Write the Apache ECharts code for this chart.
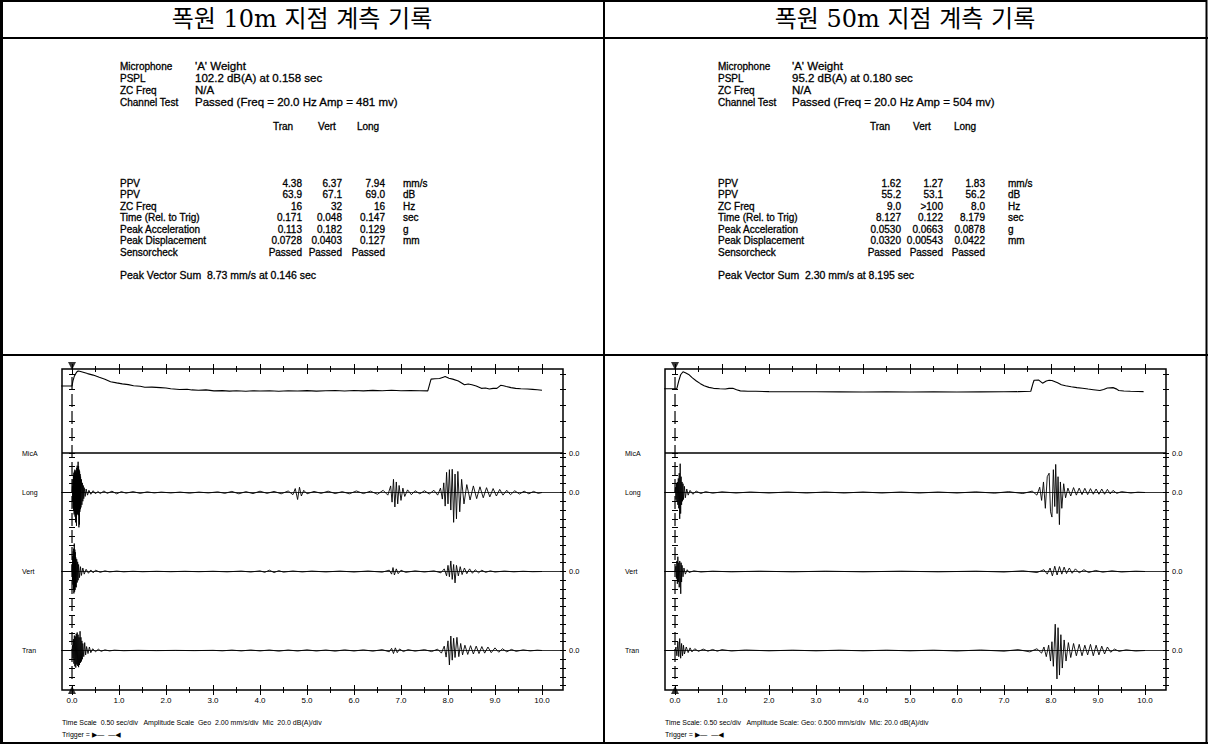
<!DOCTYPE html>
<html><head><meta charset="utf-8">
<script src="https://cdn.jsdelivr.net/npm/echarts@6/dist/echarts.min.js"></script>
<style>html,body{margin:0;padding:0;background:#fff}#c{width:1208px;height:744px}</style>
</head><body><div id="c"></div>
<script>
// ---------------- DATA ----------------
const panelTitles = ['폭원 10m 지점 계측 기록', '폭원 50m 지점 계측 기록'];
const headerLabels = ['Microphone', 'PSPL', 'ZC Freq', 'Channel Test'];
const headerValues10 = ["'A' Weight", '102.2 dB(A) at 0.158 sec', 'N/A', 'Passed (Freq = 20.0 Hz Amp = 481 mv)'];
const headerValues50 = ["'A' Weight", '95.2 dB(A) at 0.180 sec', 'N/A', 'Passed (Freq = 20.0 Hz Amp = 504 mv)'];
const columnNames = ['Tran', 'Vert', 'Long'];
const rowLabels = ['PPV', 'PPV', 'ZC Freq', 'Time (Rel. to Trig)', 'Peak Acceleration', 'Peak Displacement', 'Sensorcheck'];
const rowUnits = ['mm/s', 'dB', 'Hz', 'sec', 'g', 'mm', ''];
const tran10 = ['4.38', '63.9', '16', '0.171', '0.113', '0.0728', 'Passed'];
const vert10 = ['6.37', '67.1', '32', '0.048', '0.182', '0.0403', 'Passed'];
const long10 = ['7.94', '69.0', '16', '0.147', '0.129', '0.127', 'Passed'];
const tran50 = ['1.62', '55.2', '9.0', '8.127', '0.0530', '0.0320', 'Passed'];
const vert50 = ['1.27', '53.1', '>100', '0.122', '0.0663', '0.00543', 'Passed'];
const long50 = ['1.83', '56.2', '8.0', '8.179', '0.0878', '0.0422', 'Passed'];
const pvs10 = 'Peak Vector Sum  8.73 mm/s at 0.146 sec';
const pvs50 = 'Peak Vector Sum  2.30 mm/s at 8.195 sec';
const footer10 = ['Time Scale  0.50 sec/div   Amplitude Scale  Geo  2.00 mm/s/div  Mic  20.0 dB(A)/div', 'Trigger = \u25B6\u2014  \u2014\u25C0'];
const footer50 = ['Time Scale: 0.50 sec/div   Amplitude Scale: Geo: 0.500 mm/s/div  Mic: 20.0 dB(A)/div', 'Trigger = \u25B6\u2014  \u2014\u25C0'];
const channelNames = ['MicA', 'Long', 'Vert', 'Tran'];
const timeTicks = [0, 1, 2, 3, 4, 5, 6, 7, 8, 9, 10];
const timeLabels = ['0.0', '1.0', '2.0', '3.0', '4.0', '5.0', '6.0', '7.0', '8.0', '9.0', '10.0'];
const halfTicks = [0.5, 1.5, 2.5, 3.5, 4.5, 5.5, 6.5, 7.5, 8.5, 9.5];
const micTicks = [0, 20, 40, 60, 80, 100];
const geoTicks10 = [-8, -6, -4, -2, 0, 2, 4, 6, 8];
const geoTicks50 = [-2, -1.5, -1, -0.5, 0, 0.5, 1, 1.5, 2];
const zeroLabel = '0.0';

// Microphone traces, dB(A) [t (s), level]
const mic10 = [[-0.23,84.5],[0,84.5],[0.02,91.0],[0.05,97.0],[0.1,102.2],[0.13,103.5],[0.16,103.2],[0.2,102.6],[0.33,100.2],[0.45,98.3],[0.58,95.5],[0.7,93.1],[0.82,90.0],[0.95,88.5],[1.07,87.2],[1.2,86.3],[1.31,84.8],[1.45,84.2],[1.55,83.0],[1.7,83.1],[1.88,82.5],[2.0,82.0],[2.1,81.0],[2.29,80.2],[2.45,80.5],[2.55,79.6],[2.69,79.2],[2.85,79.7],[3.02,78.4],[3.2,78.7],[3.35,78.1],[3.5,78.5],[3.7,77.9],[3.85,78.5],[4.0,78.2],[4.2,78.6],[4.4,78.0],[4.6,78.5],[4.8,78.3],[5.0,78.7],[5.2,78.1],[5.4,78.5],[5.6,78.8],[5.8,78.3],[6.0,78.9],[6.2,78.4],[6.4,79.0],[6.6,78.5],[6.8,79.1],[7.0,78.6],[7.2,78.9],[7.4,78.5],[7.57,78.4],[7.62,89.2],[7.64,93.2],[7.72,93.7],[7.82,94.1],[7.9,95.7],[7.94,96.5],[8.02,94.4],[8.1,93.2],[8.22,90.9],[8.35,86.2],[8.43,87.1],[8.51,86.2],[8.6,84.6],[8.71,81.6],[8.8,82.0],[8.88,80.7],[8.96,81.6],[9.04,81.6],[9.12,85.4],[9.18,84.8],[9.24,83.9],[9.34,82.5],[9.44,81.6],[9.55,81.1],[9.69,80.7],[9.8,80.3],[9.9,79.8],[10.0,79.2]];
const mic50 = [[-0.23,81.0],[0,81.0],[0.04,81.5],[0.08,91.0],[0.12,98.7],[0.17,102.5],[0.22,101.3],[0.29,99.2],[0.37,94.8],[0.455,90.9],[0.54,87.5],[0.62,84.8],[0.72,82.8],[0.82,81.6],[0.95,81.0],[1.07,80.7],[1.15,81.6],[1.23,81.6],[1.31,79.9],[1.39,78.4],[1.55,78.0],[1.72,77.9],[2.0,77.4],[2.5,77.2],[3.0,77.2],[3.5,77.1],[4.0,77.0],[4.5,77.1],[5.0,77.0],[5.5,77.1],[6.0,77.0],[6.5,77.1],[7.0,77.2],[7.3,77.4],[7.57,77.9],[7.62,88.4],[7.64,91.8],[7.74,92.0],[7.82,88.1],[7.9,90.9],[7.96,91.8],[8.02,91.5],[8.14,88.5],[8.22,86.2],[8.31,84.8],[8.43,83.6],[8.55,82.5],[8.67,81.8],[8.79,80.7],[8.9,79.9],[9.04,78.8],[9.12,80.2],[9.2,82.1],[9.32,82.5],[9.4,80.6],[9.44,78.8],[9.55,78.2],[9.69,77.9],[9.85,77.6],[9.97,77.4]];

// Geophone traces, mm/s [t (s), velocity]
const longWave10 = [[-0.23,0],[0,0],[0.01,1.5],[0.015,-2.0],[0.02,3.0],[0.025,-3.5],[0.03,4.0],[0.035,-4.2],[0.04,4.5],[0.045,-5.0],[0.05,4.8],[0.055,-4.5],[0.06,5.2],[0.065,-5.5],[0.07,4.6],[0.075,-6.8],[0.08,5.0],[0.085,-5.2],[0.09,4.4],[0.095,-7.6],[0.1,5.6],[0.105,-4.8],[0.11,6.1],[0.115,-5.0],[0.12,5.4],[0.125,-4.6],[0.13,7.0],[0.135,-5.2],[0.14,6.0],[0.147,-7.94],[0.152,5.2],[0.157,-7.3],[0.162,4.8],[0.167,-4.4],[0.172,4.2],[0.177,-3.8],[0.182,3.6],[0.19,-3.4],[0.2,3.0],[0.21,-2.8],[0.22,2.2],[0.23,-2.0],[0.24,1.6],[0.25,-1.4],[0.26,1.1],[0.28,-0.9],[0.3,0.8],[0.33,-0.6],[0.36,0.5],[0.4,-0.4],[0.45,0.4],[0.5,-0.3],[0.55,0.25],[0.6,-0.25],[0.68,0.35],[0.75,-0.2],[0.85,0.3],[0.95,-0.3],[1.05,0.2],[1.15,-0.15],[1.3,0.2],[1.45,-0.2],[1.6,0.15],[1.75,-0.1],[1.9,0.1],[2.1,-0.1],[2.3,0.1],[2.5,-0.15],[2.7,0.1],[2.9,-0.1],[3.1,0.15],[3.25,-0.2],[3.4,0.25],[3.55,-0.3],[3.7,0.2],[3.85,-0.25],[4.0,0.3],[4.15,-0.2],[4.3,0.25],[4.45,-0.3],[4.6,0.35],[4.7,-0.5],[4.75,0.9],[4.8,-1.6],[4.84,1.2],[4.88,-0.8],[4.93,0.5],[5.0,-0.3],[5.15,0.25],[5.3,-0.2],[5.45,0.3],[5.6,-0.25],[5.75,0.2],[5.9,-0.3],[6.05,0.35],[6.2,-0.25],[6.35,0.3],[6.5,-0.4],[6.62,0.5],[6.72,-0.6],[6.78,1.5],[6.81,-2.2],[6.84,3.0],[6.87,-3.3],[6.9,2.4],[6.93,-2.6],[6.96,1.6],[7.0,-1.8],[7.04,1.0],[7.08,-0.9],[7.14,0.6],[7.22,-0.5],[7.3,0.4],[7.4,-0.3],[7.5,0.4],[7.6,-0.35],[7.7,0.5],[7.78,-0.6],[7.84,1.0],[7.88,-1.5],[7.91,2.2],[7.94,-3.1],[7.97,4.6],[8.0,-2.6],[8.03,5.2],[8.06,-4.0],[8.09,5.3],[8.12,-6.8],[8.15,4.2],[8.18,-6.0],[8.21,4.8],[8.25,-4.4],[8.29,3.0],[8.34,-2.6],[8.4,1.8],[8.47,-1.7],[8.54,1.5],[8.61,-1.4],[8.68,1.3],[8.75,-1.2],[8.82,1.1],[8.89,-1.0],[8.96,0.9],[9.03,-0.8],[9.1,0.7],[9.17,-0.6],[9.25,0.5],[9.33,-0.5],[9.42,0.4],[9.52,-0.35],[9.62,0.3],[9.72,-0.3],[9.82,0.25],[9.92,-0.2],[10.0,0]];
const vertWave10 = [[-0.23,0],[0,0],[0.005,1.5],[0.01,-2.2],[0.015,3.5],[0.02,-3.0],[0.025,4.6],[0.03,-4.0],[0.035,5.2],[0.04,-5.0],[0.048,6.37],[0.055,-4.6],[0.06,5.0],[0.065,-4.2],[0.07,4.4],[0.075,-3.5],[0.08,3.2],[0.09,-3.6],[0.1,2.8],[0.11,-2.5],[0.12,2.2],[0.13,-2.0],[0.14,1.6],[0.16,-1.4],[0.18,1.1],[0.2,-0.9],[0.23,0.8],[0.26,-0.6],[0.3,0.5],[0.35,-0.4],[0.4,0.35],[0.45,-0.3],[0.5,0.3],[0.6,-0.2],[0.7,0.15],[0.8,-0.1],[0.95,0.1],[1.1,-0.08],[1.3,0.06],[1.5,-0.06],[1.8,0.05],[2.1,-0.05],[2.4,0.05],[2.7,-0.05],[3.0,0.06],[3.3,-0.08],[3.6,0.1],[3.8,-0.12],[4.0,0.15],[4.1,-0.2],[4.2,0.3],[4.3,-0.25],[4.4,0.2],[4.5,-0.15],[4.7,0.12],[4.9,-0.1],[5.1,0.1],[5.4,-0.1],[5.7,0.1],[6.0,-0.12],[6.3,0.12],[6.6,-0.15],[6.75,0.3],[6.8,-0.6],[6.83,0.9],[6.86,-0.8],[6.9,0.6],[6.94,-0.5],[7.0,0.3],[7.1,-0.2],[7.3,0.15],[7.5,-0.12],[7.7,0.15],[7.85,-0.3],[7.92,0.6],[7.97,-1.0],[8.0,1.4],[8.03,-1.2],[8.06,2.4],[8.09,-1.8],[8.12,1.6],[8.15,-2.6],[8.18,1.4],[8.22,-1.0],[8.26,1.1],[8.3,-0.7],[8.35,0.8],[8.4,-0.5],[8.46,0.6],[8.52,-0.4],[8.58,0.4],[8.65,-0.3],[8.72,0.3],[8.8,-0.2],[8.9,0.15],[9.0,-0.12],[9.2,0.1],[9.4,-0.08],[9.6,0.06],[9.8,-0.05],[10.0,0]];
const tranWave10 = [[-0.23,0],[0,0],[0.01,1.2],[0.02,-1.8],[0.03,2.6],[0.04,-3.0],[0.05,3.4],[0.06,-3.6],[0.07,3.2],[0.08,-3.9],[0.09,3.8],[0.1,-3.2],[0.11,4.1],[0.12,-3.5],[0.13,3.6],[0.14,-3.8],[0.15,3.0],[0.16,-3.3],[0.171,4.38],[0.18,-2.8],[0.19,3.0],[0.2,-2.5],[0.21,2.2],[0.22,-2.0],[0.23,1.6],[0.25,-1.4],[0.27,1.8],[0.29,-1.0],[0.31,0.9],[0.34,-0.7],[0.37,0.8],[0.4,-0.5],[0.44,0.4],[0.5,-0.3],[0.56,0.3],[0.62,-0.2],[0.7,0.15],[0.8,-0.1],[0.9,0.08],[1.1,-0.05],[1.4,0.04],[1.8,-0.03],[2.2,0.03],[2.6,-0.03],[3.0,0.04],[3.2,-0.08],[3.4,0.1],[3.6,-0.1],[3.8,0.12],[4.0,-0.1],[4.2,0.12],[4.4,-0.15],[4.6,0.12],[4.8,-0.12],[5.0,0.15],[5.2,-0.12],[5.4,0.12],[5.6,-0.15],[5.8,0.15],[6.0,-0.12],[6.2,0.15],[6.4,-0.15],[6.6,0.2],[6.75,-0.3],[6.8,0.5],[6.84,-0.7],[6.88,0.6],[6.92,-0.5],[6.97,0.35],[7.05,-0.25],[7.15,0.2],[7.3,-0.15],[7.5,0.2],[7.65,-0.25],[7.78,0.3],[7.86,-0.6],[7.92,1.0],[7.96,-1.5],[8.0,2.2],[8.03,-3.3],[8.06,3.3],[8.09,-2.2],[8.12,2.8],[8.15,-1.6],[8.19,3.0],[8.23,-1.4],[8.27,1.6],[8.31,-1.0],[8.36,1.2],[8.42,-0.9],[8.48,1.1],[8.54,-0.8],[8.6,1.0],[8.66,-0.7],[8.72,0.9],[8.78,-0.6],[8.85,0.8],[8.92,-0.5],[9.0,0.6],[9.08,-0.4],[9.16,0.4],[9.25,-0.3],[9.35,0.25],[9.45,-0.2],[9.6,0.15],[9.75,-0.1],[9.9,0.08],[10.0,0]];
const longWave50 = [[-0.23,0],[0,0],[0.01,0.3],[0.02,-0.4],[0.03,0.5],[0.04,-0.5],[0.05,0.6],[0.06,-0.7],[0.07,0.8],[0.08,-0.9],[0.09,1.1],[0.1,-1.5],[0.11,1.64],[0.12,-1.2],[0.13,0.9],[0.14,-0.7],[0.15,0.6],[0.16,-0.5],[0.17,0.5],[0.18,-0.4],[0.2,0.35],[0.22,-0.3],[0.25,0.2],[0.28,-0.15],[0.32,0.12],[0.38,-0.1],[0.45,0.08],[0.55,-0.06],[0.65,0.05],[0.8,-0.04],[1.0,0.04],[1.3,-0.03],[1.6,0.03],[2.0,-0.03],[2.4,0.03],[2.8,-0.03],[3.2,0.03],[3.6,-0.03],[4.0,0.03],[4.4,-0.03],[4.8,0.03],[5.2,-0.03],[5.6,0.03],[6.0,-0.03],[6.4,0.04],[6.8,-0.04],[7.1,0.05],[7.4,-0.06],[7.6,0.08],[7.7,-0.15],[7.76,0.3],[7.8,-0.45],[7.84,0.6],[7.88,-0.9],[7.92,0.9],[7.96,1.1],[7.99,-1.1],[8.02,-1.4],[8.05,1.3],[8.08,-0.8],[8.1,1.6],[8.13,-1.2],[8.15,0.9],[8.179,-1.83],[8.2,0.6],[8.23,-0.9],[8.27,0.5],[8.31,-0.3],[8.36,0.25],[8.42,-0.2],[8.48,0.28],[8.54,-0.15],[8.6,0.25],[8.66,-0.12],[8.72,0.24],[8.78,-0.12],[8.84,0.22],[8.9,-0.1],[8.96,0.2],[9.02,-0.1],[9.08,0.2],[9.14,-0.1],[9.2,0.18],[9.26,-0.08],[9.32,0.12],[9.4,-0.05],[9.5,0.05],[9.7,-0.03],[9.85,0.02],[10.0,0]];
const vertWave50 = [[-0.23,0],[0,0],[0.02,0.3],[0.03,-0.4],[0.04,0.6],[0.05,-0.7],[0.06,0.84],[0.07,-0.6],[0.08,0.5],[0.09,-0.9],[0.1,0.6],[0.11,0.4],[0.122,-1.27],[0.13,0.5],[0.14,-0.6],[0.15,0.35],[0.17,-0.3],[0.19,0.2],[0.22,-0.15],[0.26,0.1],[0.3,-0.06],[0.4,0.04],[0.55,-0.03],[0.8,0.02],[1.2,-0.02],[1.8,0.02],[2.5,-0.02],[3.2,0.02],[4.0,-0.02],[4.8,0.02],[5.6,-0.02],[6.4,0.02],[7.0,-0.03],[7.4,0.04],[7.7,-0.06],[7.85,0.1],[7.92,-0.15],[7.98,0.2],[8.03,-0.25],[8.08,0.3],[8.13,-0.2],[8.18,0.28],[8.23,-0.15],[8.28,0.25],[8.33,-0.12],[8.39,0.2],[8.45,-0.1],[8.52,0.15],[8.6,-0.08],[8.7,0.1],[8.8,-0.06],[8.95,0.06],[9.1,-0.04],[9.3,0.04],[9.5,-0.03],[9.8,0.02],[10.0,0]];
const tranWave50 = [[-0.23,0],[0,0],[0.02,0.2],[0.04,-0.3],[0.06,0.5],[0.08,-0.35],[0.1,0.68],[0.12,-0.44],[0.14,0.4],[0.16,-0.3],[0.18,0.3],[0.2,-0.2],[0.24,0.2],[0.28,-0.12],[0.32,0.15],[0.36,-0.08],[0.42,0.1],[0.5,-0.05],[0.6,0.08],[0.7,-0.04],[0.8,0.06],[0.9,-0.04],[1.0,0.05],[1.2,-0.03],[1.5,0.03],[2.0,-0.02],[2.5,0.02],[3.0,-0.02],[3.5,0.02],[4.0,-0.02],[4.5,0.02],[5.0,-0.02],[5.5,0.02],[6.0,-0.03],[6.5,0.03],[7.0,-0.04],[7.3,0.05],[7.55,-0.08],[7.7,0.1],[7.8,-0.15],[7.85,0.2],[7.9,-0.35],[7.95,0.3],[7.99,-0.6],[8.02,0.5],[8.05,-0.9],[8.09,1.5],[8.127,-1.62],[8.15,1.3],[8.18,-1.4],[8.21,0.9],[8.24,-1.0],[8.28,0.6],[8.32,-0.6],[8.37,0.45],[8.42,-0.4],[8.48,0.4],[8.54,-0.3],[8.6,0.35],[8.66,-0.3],[8.72,0.3],[8.78,-0.25],[8.84,0.35],[8.9,-0.3],[8.96,0.3],[9.02,-0.25],[9.08,0.25],[9.14,-0.2],[9.2,0.2],[9.27,-0.1],[9.35,0.08],[9.45,-0.05],[9.6,0.04],[9.8,-0.03],[10.0,0]];

// ---------------- LAYOUT / BUILD ----------------
const TXT = '"Liberation Sans", Arial, "DejaVu Sans", sans-serif';
const panels = [
  {dx: 0, title: panelTitles[0], hv: headerValues10, cols: [tran10, vert10, long10], pvs: pvs10, mic: mic10,
   geo: [longWave10, vertWave10, tranWave10], geoMin: -9, geoMax: 9, geoTicks: geoTicks10, footer: footer10,
   lx: 120, vx: 195, colR: [302, 342, 385], colH: [283, 327, 368], ux: 403},
  {dx: 603, title: panelTitles[1], hv: headerValues50, cols: [tran50, vert50, long50], pvs: pvs50, mic: mic50,
   geo: [longWave50, vertWave50, tranWave50], geoMin: -2.25, geoMax: 2.25, geoTicks: geoTicks50, footer: footer50,
   lx: 718, vx: 792, colR: [901, 943, 985], colH: [880, 922, 965], ux: 1008}
];
const FR = {l: 62, w: 501, t: 369};
const bandH = [84, 79, 79, 79];
const totalH = bandH.reduce((a, b) => a + b, 0);
const TMIN = -0.213, TMAX = 10.447;
const MIC_MAX = 106;

const grid = [], xAxis = [], yAxis = [], series = [], elements = [];
const BLACK = '#000';
function addX(gi, o) {
  xAxis.push(Object.assign({gridIndex: gi, type: 'value', min: TMIN, max: TMAX,
    axisLine: {show: false}, splitLine: {show: false}, axisLabel: {show: false}, axisTick: {show: false}}, o));
  return xAxis.length - 1;
}
function addY(gi, o) {
  yAxis.push(Object.assign({gridIndex: gi, type: 'value',
    axisLine: {show: false}, splitLine: {show: false}, axisLabel: {show: false}, axisTick: {show: false}}, o));
  return yAxis.length - 1;
}
function tick(vals, len, inside) {
  return {show: true, customValues: vals, length: len, inside: !!inside, lineStyle: {color: BLACK, width: 1}};
}
function text(x, y, s, size, align, font, heavy) {
  const st = {text: s, font: size + 'px ' + (font || TXT), fill: BLACK,
    textAlign: align || 'left', align: align || 'left', textVerticalAlign: 'middle', verticalAlign: 'middle'};
  if (heavy) { st.stroke = BLACK; st.lineWidth = heavy; }
  elements.push({type: 'text', x: x, y: y, silent: true, style: st});
}
function line(x1, y1, x2, y2, w) {
  elements.push({type: 'line', silent: true, shape: {x1: x1, y1: y1, x2: x2, y2: y2}, style: {stroke: BLACK, lineWidth: w}});
}

panels.forEach((p) => {
  const L = FR.l + p.dx;
  const tickSets = [[timeTicks, 5, false], [timeTicks, 5, true], [halfTicks, 3, false], [halfTicks, 3, true]];
  let frameX = -1, frameY = -1;
  tickSets.forEach((ts, k) => {
    const gi = grid.length;
    grid.push(k === 0 ? {left: L, top: FR.t, width: FR.w, height: totalH, show: true, borderColor: BLACK, borderWidth: 1.5, backgroundColor: 'rgba(0,0,0,0)'}
                      : {left: L, top: FR.t, width: FR.w, height: totalH});
    const xb = addX(gi, {position: 'bottom', axisTick: tick(ts[0], ts[1], ts[2]),
      axisLabel: k === 0 ? {show: true, customValues: timeTicks, formatter: (v) => timeLabels[timeTicks.indexOf(v)], fontSize: 8, color: BLACK, margin: 6, fontFamily: TXT} : {show: false}});
    addX(gi, {position: 'top', axisTick: tick(ts[0], ts[1], ts[2])});
    const yb = addY(gi, {min: 0, max: 1, position: 'left'});
    if (k === 0) { frameX = xb; frameY = yb; }
  });
  series.push({type: 'line', xAxisIndex: frameX, yAxisIndex: frameY, data: [[0, 0.975], [0, 0.03]],
    showSymbol: false, symbol: 'none', silent: true, animation: false,
    lineStyle: {color: BLACK, width: 1.2, type: [13, 4]}});
  series.push({type: 'scatter', xAxisIndex: frameX, yAxisIndex: frameY, clip: false, silent: true, animation: false,
    data: [{value: [0, 1], symbolRotate: 180, symbolOffset: [0, -3]}, {value: [0, 0], symbolOffset: [0, 0]}],
    symbol: 'triangle', symbolSize: [8, 8], itemStyle: {color: BLACK}});

  let top = FR.t;
  const traces = [p.mic].concat(p.geo);
  traces.forEach((data, b) => {
    const h = bandH[b];
    const isMic = b === 0;
    const mn = isMic ? 0 : p.geoMin, mx = isMic ? MIC_MAX : p.geoMax;
    const tv = isMic ? micTicks : p.geoTicks;
    const gi = grid.length;
    grid.push({left: L, top: top, width: FR.w, height: h});
    const xi = addX(gi, {});
    const yl = addY(gi, {position: 'left', min: mn, max: mx, axisTick: tick(tv, 3, true)});
    addY(gi, {position: 'right', min: mn, max: mx, axisTick: tick(tv, 3, true),
      axisLabel: {show: true, customValues: [0], formatter: () => zeroLabel, fontSize: 7.5, color: BLACK, margin: 6, fontFamily: TXT}});
    const go = grid.length;
    grid.push({left: L, top: top, width: FR.w, height: h});
    addX(go, {});
    addY(go, {position: 'left', min: mn, max: mx, axisTick: tick(tv, 3, false),
      axisLabel: {show: true, customValues: [0], formatter: () => channelNames[b], fontSize: 7, color: BLACK, margin: 40, align: 'left', fontFamily: TXT}});
    addY(go, {position: 'right', min: mn, max: mx, axisTick: tick(tv, 3, false)});
    series.push({type: 'line', xAxisIndex: xi, yAxisIndex: yl, data: data, showSymbol: false, symbol: 'none',
      silent: true, animation: false, clip: true, lineStyle: {color: BLACK, width: isMic ? 1.1 : 0.9},
      markLine: {silent: true, symbol: 'none', label: {show: false}, animation: false,
        lineStyle: {color: BLACK, width: isMic ? 1.6 : 0.8, type: 'solid'}, data: [{yAxis: 0}]}});
    top += h;
  });

  text(p.dx + 302, 19, p.title, 24, 'center', '"DejaVu Serif", "Noto Sans CJK KR", serif');
  headerLabels.forEach((s, i) => { text(p.lx, 66 + i * 12, s, 10, 'left', null, 0.3); text(p.vx, 66 + i * 12, p.hv[i], 11.5, 'left', null, 0.3); });
  columnNames.forEach((s, j) => text(p.colH[j], 126, s, 10, 'center', null, 0.3));
  const rowY = [183, 194.5, 206, 217.5, 229, 240.5, 252];
  rowLabels.forEach((s, i) => {
    text(p.lx, rowY[i], s, 10, 'left', null, 0.3);
    p.cols.forEach((col, j) => text(p.colR[j], rowY[i], col[i], 10, 'right', null, 0.3));
    if (rowUnits[i]) text(p.ux, rowY[i], rowUnits[i], 10, 'left', null, 0.3);
  });
  text(p.lx, 275, p.pvs, 10.5, 'left', null, 0.3);
  text(L, 722, p.footer[0], 7);
  text(L, 734, p.footer[1], 7);
});

line(1, 1, 1207, 1, 2);
line(1.5, 0, 1.5, 744, 3);
line(1206.5, 0, 1206.5, 744, 2);
line(0, 743, 1208, 743, 2);
line(0, 38, 1208, 38, 2);
line(604, 0, 604, 744, 2);
line(0, 355, 1208, 355, 2);

const chart = echarts.init(document.getElementById('c'), null, {renderer: 'svg', width: 1208, height: 744});
chart.setOption({
  animation: false,
  backgroundColor: '#fff',
  grid: grid, xAxis: xAxis, yAxis: yAxis, series: series,
  graphic: {elements: elements}
});
</script>
</body></html>
